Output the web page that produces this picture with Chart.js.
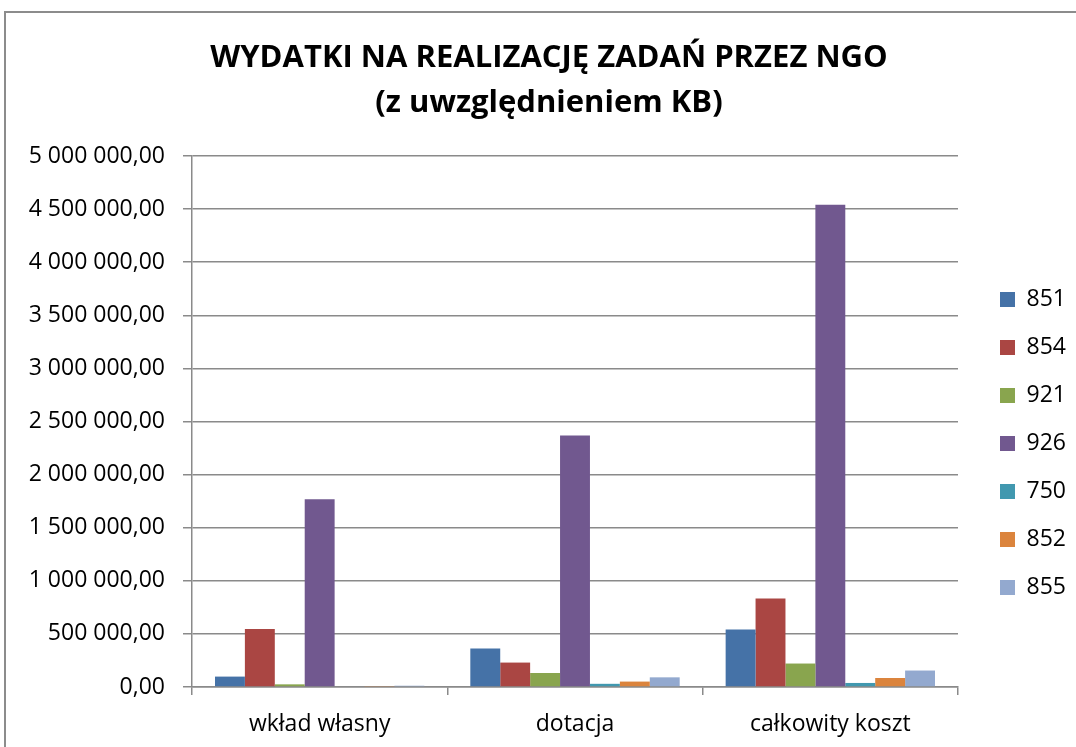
<!DOCTYPE html>
<html>
<head>
<meta charset="utf-8">
<script src="https://cdn.jsdelivr.net/npm/chart.js@4/dist/chart.umd.min.js"></script>
<style>
  html, body { margin: 0; padding: 0; background: #fff; overflow: hidden; }
  #frame { position: absolute; left: 4px; top: 11px; width: 1200px; height: 900px; border: 2px solid #8c8c8c; box-sizing: border-box; }
  #wrap { position: absolute; left: 0; top: 0; width: 1076px; height: 747px; }
</style>
</head>
<body>
<div id="frame"></div>
<div id="wrap"><canvas id="myChart" width="1076" height="747"></canvas></div>
<script>
const categories = ['wkład własny', 'dotacja', 'całkowity koszt'];
const seriesNames = ['851', '854', '921', '926', '750', '852', '855'];
const seriesColors = ['#4572A7', '#AA4643', '#89A54E', '#71588F', '#4198AF', '#DB843D', '#93A9CF'];

const v851 = [98000, 362000, 541000];
const v854 = [547000, 230000, 833000];
const v921 = [25000, 132000, 221000];
const v926 = [1769000, 2368000, 4542000];
const v750 = [0, 30000, 38000];
const v852 = [5000, 51000, 85000];
const v855 = [12000, 91000, 155000];

const titleLines = ['WYDATKI NA REALIZACJĘ ZADAŃ PRZEZ NGO', '(z uwzględnieniem KB)'];
const yMax = 5000000;
const yStep = 500000;

const allValues = [v851, v854, v921, v926, v750, v852, v855];

function fmt(v) {
  const parts = Number(v).toFixed(2).split('.');
  const intPart = parts[0].replace(/\B(?=(\d{3})+(?!\d))/g, ' ');
  return intPart + ',' + parts[1];
}

const gridColor = '#8a8a8a';

// keep legend width fixed and nudge it to where the original sits
const legendFix = {
  id: 'legendFix',
  beforeInit(chart) {
    const origFit = chart.legend.fit;
    chart.legend.fit = function () {
      origFit.bind(chart.legend)();
      this.width = 118;
    };
  },
  afterLayout(chart) {
    const lg = chart.legend;
    lg.left += 17; lg.right += 17;
    lg.top += 70; lg.bottom += 70;
  }
};

const ctx = document.getElementById('myChart').getContext('2d');
const chart = new Chart(ctx, {
  type: 'bar',
  data: {
    labels: categories,
    datasets: seriesNames.map((name, i) => ({
      label: name,
      data: allValues[i],
      backgroundColor: seriesColors[i],
      borderWidth: 0,
      categoryPercentage: 0.82,
      barPercentage: 1.0,
    }))
  },
  options: {
    responsive: false,
    animation: false,
    layout: { padding: { left: 22, right: 0, top: 0, bottom: 0 } },
    plugins: {
      tooltip: { enabled: false },
      title: {
        display: true,
        text: titleLines,
        color: '#000',
        font: { family: 'Open Sans', size: 31, weight: 'bold', lineHeight: '45px' },
        padding: { top: 35.5, bottom: 30.5 },
      },
      legend: {
        position: 'right',
        align: 'center',
        labels: {
          boxWidth: 15,
          boxHeight: 15,
          padding: 25,
          color: '#000',
          font: { family: 'Open Sans', size: 23 },
        }
      }
    },
    scales: {
      x: {
        afterFit(scale) { scale.height = 60; },
        grid: { display: true, drawOnChartArea: false, drawTicks: true, tickLength: 8, color: gridColor, lineWidth: 1.5 },
        border: { display: true, color: gridColor, width: 1.5 },
        ticks: { color: '#000', padding: 16, font: { family: 'Open Sans', size: 23 } },
      },
      y: {
        min: 0,
        max: yMax,
        afterFit(scale) { scale.width = 170; },
        grid: { color: gridColor, lineWidth: 1.5, tickLength: 9 },
        border: { display: true, color: gridColor, width: 1.5 },
        ticks: {
          stepSize: yStep,
          color: '#000',
          padding: 18,
          font: { family: 'Open Sans', size: 23 },
          callback: v => fmt(v),
        }
      }
    }
  },
  plugins: [legendFix]
});
</script>
</body>
</html>
